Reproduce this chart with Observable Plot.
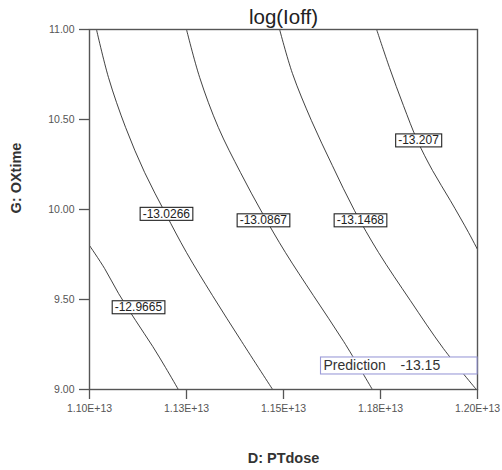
<!DOCTYPE html>
<html><head><meta charset="utf-8">
<script src="https://cdn.jsdelivr.net/npm/d3@7"></script>
<script src="https://cdn.jsdelivr.net/npm/@observablehq/plot@0.6"></script>
<style>
body{margin:0;background:#fff;}
#chart svg{display:block;}
</style>
</head><body><div id="chart"></div>
<script>
// ---- data ----
const title = "log(Ioff)";
const xLabel = "D: PTdose";
const yLabel = "G: OXtime";
const levels = [-12.9665, -13.0266, -13.0867, -13.1468, -13.207];
const levelLabels = ["-12.9665", "-13.0266", "-13.0867", "-13.1468", "-13.207"];

// contour traces (PTdose, OXtime)
const dose1 = [1.1000e13, 1.1039e13, 1.1075e13, 1.1119e13, 1.1163e13, 1.1196e13, 1.1229e13];
const time1 = [9.800, 9.672, 9.533, 9.383, 9.239, 9.122, 9.000];
const dose2 = [1.1018e13, 1.1049e13, 1.1093e13, 1.1142e13, 1.1196e13, 1.1250e13, 1.1317e13, 1.1392e13, 1.1472e13];
const time2 = [11.000, 10.733, 10.456, 10.206, 9.978, 9.761, 9.522, 9.267, 9.000];
const dose3 = [1.1250e13, 1.1284e13, 1.1332e13, 1.1389e13, 1.1446e13, 1.1505e13, 1.1577e13, 1.1655e13, 1.1729e13];
const time3 = [11.000, 10.733, 10.456, 10.206, 9.978, 9.761, 9.522, 9.267, 9.000];
const dose4 = [1.1490e13, 1.1523e13, 1.1572e13, 1.1626e13, 1.1683e13, 1.1745e13, 1.1827e13, 1.1912e13, 1.1997e13];
const time4 = [11.000, 10.756, 10.494, 10.244, 9.994, 9.761, 9.494, 9.228, 9.000];
const dose5 = [1.1740e13, 1.1773e13, 1.1809e13, 1.1845e13, 1.1884e13, 1.1930e13, 1.1977e13, 1.2000e13];
const time5 = [11.000, 10.789, 10.578, 10.383, 10.217, 10.050, 9.872, 9.778];

// label anchor positions on each contour
const labelDose = [1.1126e13, 1.1198e13, 1.1448e13, 1.1698e13, 1.1848e13];
const labelTime = [9.456, 9.975, 9.939, 9.939, 10.383];

const predictionText = "Prediction";
const predictionValue = "-13.15";

const xTicks = [1.10e13, 1.125e13, 1.15e13, 1.175e13, 1.20e13];
const xTickLabels = ["1.10E+13", "1.13E+13", "1.15E+13", "1.18E+13", "1.20E+13"];
const yTicks = [9.0, 9.5, 10.0, 10.5, 11.0];
const yTickLabels = ["9.00", "9.50", "10.00", "10.50", "11.00"];

// ---- build tables ----
const doses = [dose1, dose2, dose3, dose4, dose5];
const times = [time1, time2, time3, time4, time5];
const contours = levels.flatMap((lv, i) => doses[i].map((d, j) => ({dose: d, time: times[i][j], level: lv})));
const labels = levels.map((lv, i) => ({dose: labelDose[i], time: labelTime[i], text: levelLabels[i]}));
const xMap = new Map(xTicks.map((t, i) => [t, xTickLabels[i]]));
const yMap = new Map(yTicks.map((t, i) => [t, yTickLabels[i]]));

const W = 502, H = 470, mL = 89, mR = 25, mT = 29, mB = 81;

const chart = Plot.plot({
  width: W, height: H,
  marginLeft: mL, marginRight: mR, marginTop: mT, marginBottom: mB,
  style: {fontFamily: "'Liberation Sans', Arial, sans-serif", color: "#555", background: "#fff"},
  x: {domain: [1.1e13, 1.2e13]},
  y: {domain: [9, 11]},
  marks: [
    Plot.line(contours, {x: "dose", y: "time", z: "level", stroke: "#111", strokeWidth: 0.8, curve: "catmull-rom"}),
    Plot.frame({stroke: "#555", strokeWidth: 1.4}),
    Plot.axisX(xTicks, {tickSize: 10, tickPadding: 5, tickFormat: d => xMap.get(d), fontSize: 10.5, label: null, strokeWidth: 1.3}),
    Plot.axisY(yTicks, {tickSize: 10, tickPadding: 5, tickFormat: d => yMap.get(d), fontSize: 10.5, label: null, strokeWidth: 1.3}),
    Plot.text(labels, {x: "dose", y: "time", text: "text", fontSize: 12, fill: "#222", className: "ctr-label"}),
    Plot.text([predictionText], {frameAnchor: "bottom-right", textAnchor: "start", lineAnchor: "middle", dx: -154, dy: -24, fontSize: 14, fill: "#333", className: "pred-label"}),
    Plot.text([predictionValue], {frameAnchor: "bottom-right", textAnchor: "start", lineAnchor: "middle", dx: -77, dy: -24, fontSize: 14, fill: "#333", className: "pred-value"}),
    Plot.text([title], {frameAnchor: "top", lineAnchor: "middle", dy: -12, fontSize: 20.5, fill: "#222"}),
    Plot.text([xLabel], {frameAnchor: "bottom", lineAnchor: "middle", dy: 69, fontSize: 14.5, fontWeight: "bold", fill: "#333"}),
    Plot.text([yLabel], {frameAnchor: "left", lineAnchor: "middle", dx: -73, dy: 4, rotate: -90, fontSize: 14.5, fontWeight: "bold", fill: "#333"})
  ]
});
document.getElementById("chart").append(chart);

const NS = "http://www.w3.org/2000/svg";
function boxBehind(t, x, y, w, h, stroke, sw) {
  const r = document.createElementNS(NS, "rect");
  r.setAttribute("x", x); r.setAttribute("y", y);
  r.setAttribute("width", w); r.setAttribute("height", h);
  r.setAttribute("fill", "#fff"); r.setAttribute("stroke", stroke);
  r.setAttribute("stroke-width", sw);
  if (t.getAttribute("transform")) r.setAttribute("transform", t.getAttribute("transform"));
  t.parentNode.insertBefore(r, t);
}
chart.querySelectorAll("g.ctr-label text").forEach(t => {
  const b = t.getBBox();
  boxBehind(t, b.x - 2.5, b.y + 0.5, b.width + 5, b.height - 1, "#222", 1.1);
});
const pl = chart.querySelector("g.pred-label text");
if (pl) {
  const b = pl.getBBox();
  // right edge of the plot frame expressed in the text's own coordinates
  const tScreen = pl.getScreenCTM();
  const rootScreen = chart.getScreenCTM();
  const offX = tScreen.e - rootScreen.e;
  const right = (W - mR) - offX;
  boxBehind(pl, b.x - 3, b.y, right - (b.x - 3), b.height + 1, "#9c9cd8", 1.1);
}
</script>
</body></html>
